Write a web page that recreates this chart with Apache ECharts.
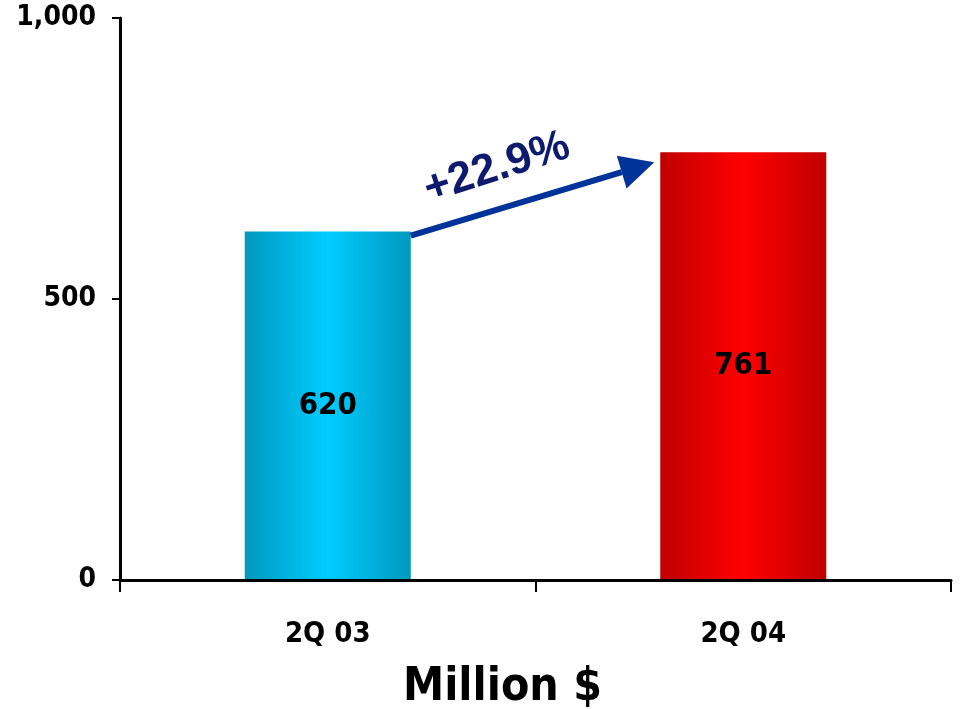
<!DOCTYPE html>
<html>
<head>
<meta charset="utf-8">
<script src="https://cdn.jsdelivr.net/npm/echarts@6/dist/echarts.min.js"></script>
<style>
  html, body { margin: 0; padding: 0; background: #fff; }
  #chart { width: 960px; height: 709px; }
</style>
</head>
<body>
<div id="chart"></div>
<script>
const categories = ['2Q 03', '2Q 04']
const values = [620, 761]
const growthLabel = '+22.9%'
const yTicks = [0, 500, 1000]

const FONT = '"DejaVu Sans Condensed", "Liberation Sans Narrow", "Liberation Sans", Arial, sans-serif'

const barGradient = (edge, mid) => new echarts.graphic.LinearGradient(0, 0, 1, 0, [
  { offset: 0, color: edge },
  { offset: 0.5, color: mid },
  { offset: 1, color: edge }
])
const barColors = [
  barGradient('#0099bf', '#00ccff'),
  barGradient('#c00000', '#ff0000')
]

const chart = echarts.init(document.getElementById('chart'))
chart.setOption({
  animation: false,
  grid: { left: 120, right: 9, top: 18, bottom: 129 },
  title: {
    text: 'Million $',
    left: 398,
    top: 660,
    textStyle: { fontFamily: FONT, fontSize: 46, fontWeight: 'bold', color: '#000' }
  },
  xAxis: {
    type: 'category',
    data: categories,
    axisLine: { lineStyle: { color: '#000', width: 3 }, onZero: true },
    axisTick: { show: true, length: 12, lineStyle: { color: '#000', width: 2 } },
    axisLabel: {
      margin: 40,
      fontFamily: FONT, fontSize: 29, fontWeight: 'bold', color: '#000'
    },
    z: 10
  },
  yAxis: {
    type: 'value',
    min: 0,
    max: 1000,
    interval: 500,
    axisLine: { show: true, lineStyle: { color: '#000', width: 3 } },
    axisTick: { show: true, length: 8, lineStyle: { color: '#000', width: 2 } },
    splitLine: { show: false },
    axisLabel: {
      margin: 24,
      fontFamily: FONT, fontSize: 28, fontWeight: 'bold', color: '#000',
      formatter: v => yTicks.includes(v) ? v.toLocaleString('en-US') : ''
    }
  },
  series: [{
    type: 'bar',
    barWidth: 166,
    data: values.map((v, i) => ({ value: v, itemStyle: { color: barColors[i] } })),
    label: {
      show: true,
      position: 'inside',
      fontFamily: FONT, fontSize: 31, fontWeight: 'bold', color: '#000'
    }
  }]
})

// growth arrow from top-right of first bar toward second bar
const p1 = chart.convertToPixel({ seriesIndex: 0 }, [0, values[0]])
const p2 = chart.convertToPixel({ seriesIndex: 0 }, [1, values[1]])
const halfBar = 83
const x1 = p1[0] + halfBar, y1 = p1[1] + 4
const x2 = p2[0] - halfBar - 6, y2 = p2[1] + 10
const ang = Math.atan2(y2 - y1, x2 - x1)
const headLen = 34, headW = 17
const bx = x2 - headLen * Math.cos(ang), by = y2 - headLen * Math.sin(ang)
const nx = -Math.sin(ang), ny = Math.cos(ang)

chart.setOption({
  graphic: [
    {
      type: 'line',
      shape: { x1: x1, y1: y1, x2: bx, y2: by },
      style: { stroke: '#003399', lineWidth: 6 },
      z: 20
    },
    {
      type: 'polygon',
      shape: { points: [[x2, y2], [bx + nx * headW, by + ny * headW], [bx - nx * headW, by - ny * headW]] },
      style: { fill: '#003399' },
      z: 20
    },
    {
      type: 'text',
      x: 497, y: 168,
      rotation: -ang + 0.02,
      style: {
        text: growthLabel,
        fontFamily: '"Liberation Sans", Arial, sans-serif',
        fontSize: 44, fontWeight: 'bold', fill: '#0d1a6e',
        align: 'center', verticalAlign: 'middle'
      },
      z: 20
    }
  ]
})
</script>
</body>
</html>
